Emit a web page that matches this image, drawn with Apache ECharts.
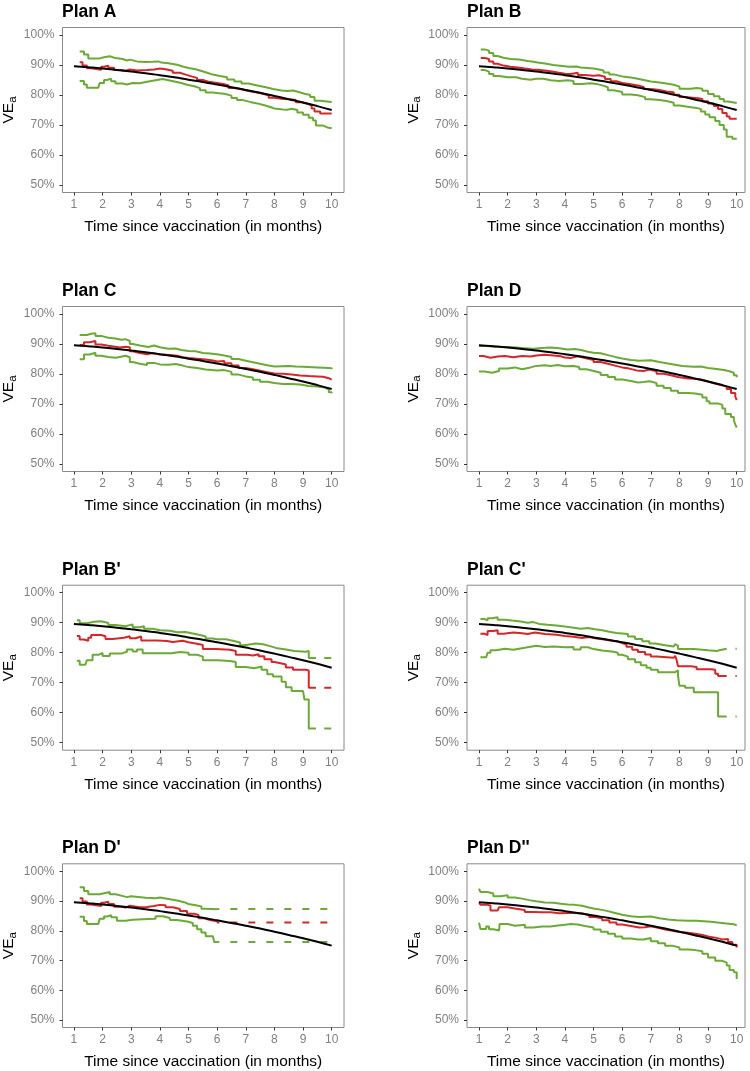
<!DOCTYPE html>
<html>
<head>
<meta charset="utf-8">
<script src="https://cdn.jsdelivr.net/npm/echarts@6/dist/echarts.min.js"></script>
<style>
html,body{margin:0;padding:0;background:#fff;}
#chart{width:750px;height:1071px;}
</style>
</head>
<body>
<div id="chart"></div>
<script>
// ---------------- DATA ----------------
const panelTitles = ['Plan A', 'Plan B', 'Plan C', 'Plan D', "Plan B'", "Plan C'", "Plan D'", "Plan D''"];
const xTicks = [1, 2, 3, 4, 5, 6, 7, 8, 9, 10];
const yTicks = [50, 60, 70, 80, 90, 100];
const xAxisTitle = 'Time since vaccination (in months)';

// true VE curve (black)
const truthX = [1, 1.5, 2, 2.5, 3, 3.5, 4, 4.5, 5, 5.5, 6, 6.5, 7, 7.5, 8, 8.5, 9, 9.5, 10];
const truthY = [89.6, 89.25, 88.85, 88.35, 87.8, 87.25, 86.6, 85.9, 85.1, 84.35, 83.5, 82.6, 81.7, 80.75, 79.7, 78.6, 77.5, 76.3, 75.0];

// Plan A
const planA_hi = [[1.2,94.5],[1.35,93.5],[1.5,92.2],[1.9,92.6],[2.05,92.9],[2.25,92.3],[2.45,92],[2.7,91.5],[2.85,91.8],[2.95,91.2],[3.2,91.0],[3.5,91.1],[3.75,91.2],[3.95,90.8],[4.05,90.6],[4.3,90.1],[4.6,89.5],[4.8,89],[5.0,88.6],[5.25,88],[5.45,87.4],[5.65,86.8],[5.85,86.3],[6.1,85.9],[6.35,85.2],[6.6,84.5],[6.85,83.8],[7.1,83.2],[7.4,82.6],[7.7,82],[7.95,81.5],[8.25,81.3],[8.45,81.5],[8.65,81],[8.85,80.4],[9.05,80],[9.25,79.3],[9.4,78.1],[9.6,77.7],[10,77.7]];
const planA_est = [[1.2,90.9],[1.3,89.8],[1.45,88.9],[1.6,88.4],[1.95,89.4],[2.05,89.8],[2.2,89.1],[2.4,88.3],[2.65,88.1],[2.8,88.5],[2.95,88.2],[3.2,88.3],[3.55,88.5],[3.8,88.8],[4.0,88.6],[4.2,88.1],[4.45,87.4],[4.7,86.8],[4.9,86.2],[5.1,85.7],[5.3,85],[5.5,84.4],[5.7,84],[6.0,83.6],[6.25,83.2],[6.4,82.3],[6.6,81.9],[6.85,81.4],[7.05,81],[7.3,80.5],[7.55,79.9],[7.8,79.1],[8.0,78.7],[8.3,78.6],[8.55,78.3],[8.75,77.6],[8.95,77.1],[9.15,76.5],[9.3,75.5],[9.4,74.5],[9.6,73.8],[10,73.7]];
const planA_lo = [[1.2,84.7],[1.35,83.5],[1.45,82.4],[1.85,82.5],[1.9,84],[2.05,85],[2.15,85.4],[2.3,84.6],[2.45,83.8],[2.7,83.5],[2.85,84],[3.05,83.9],[3.3,84.5],[3.6,84.9],[3.85,85.3],[4.1,84.9],[4.3,84.4],[4.55,84],[4.75,83.4],[4.95,82.9],[5.2,82.3],[5.4,81.6],[5.6,80.8],[5.85,80.6],[6.05,80.4],[6.25,79.8],[6.5,79],[6.7,78.3],[6.9,77.7],[7.15,77.2],[7.4,76.6],[7.65,76],[7.85,75.5],[8.0,75.2],[8.3,75.1],[8.45,75.4],[8.6,75],[8.8,74.2],[9.0,73.4],[9.2,72.4],[9.35,71.5],[9.45,69.8],[9.7,69.2],[9.85,68.9],[10,68.9]];

// Plan B
const planB_hi = [[1.06,95.2],[1.2,94.8],[1.35,94],[1.5,93],[1.65,92.4],[1.85,92],[2.1,91.8],[2.4,91.3],[2.7,91.1],[2.9,90.8],[3.05,90.5],[3.3,90],[3.6,89.7],[3.9,89.4],[4.15,89.5],[4.4,89.2],[4.55,88.8],[5.0,88.6],[5.15,88.2],[5.35,87.5],[5.55,86.8],[5.75,86.2],[6.0,85.8],[6.3,85.5],[6.5,85],[6.75,84.5],[7.0,84.2],[7.3,83.8],[7.55,83.4],[7.8,82.8],[8.0,82.1],[8.4,82.3],[8.6,82.1],[8.8,81.4],[9.0,80.3],[9.2,79.6],[9.4,78.7],[9.55,77.8],[9.7,77.3],[10,77.3]];
const planB_est = [[1.06,92.3],[1.2,92],[1.35,91.2],[1.5,90.4],[1.65,89.8],[1.85,89.4],[2.1,89.2],[2.35,88.8],[2.6,88.5],[2.85,88.4],[3.05,88.2],[3.3,87.8],[3.55,87.4],[3.8,87.1],[4.0,87],[4.2,87.4],[4.45,86.7],[4.7,86.4],[5.0,86.6],[5.2,86.1],[5.4,85.3],[5.6,84.6],[5.8,84],[6.0,83.6],[6.3,83.2],[6.55,82.7],[6.75,82],[7.0,81.7],[7.3,81.2],[7.55,80.9],[7.8,80.1],[8.0,79.3],[8.2,79.1],[8.45,78.9],[8.65,78.7],[8.8,77.9],[9.0,77.2],[9.2,76.3],[9.35,75.3],[9.5,74],[9.65,72.8],[9.75,72.1],[10,72]];
const planB_lo = [[1.06,88.3],[1.2,87.8],[1.35,87],[1.5,86.3],[1.7,85.9],[2.0,85.9],[2.3,85.4],[2.5,85.1],[2.8,85.4],[3.0,85.4],[3.25,84.9],[3.5,84.7],[3.8,84.9],[4.1,84.7],[4.3,83.7],[4.6,83.9],[4.9,83.7],[5.1,83.2],[5.3,82.6],[5.5,81.6],[5.7,81],[6.0,80.2],[6.3,79.9],[6.55,79.3],[6.8,78.6],[7.0,78.3],[7.3,78],[7.55,77.4],[7.8,76.5],[8.0,75.9],[8.4,75.7],[8.6,75.3],[8.75,74.5],[8.9,73.5],[9.05,72.6],[9.25,71.3],[9.4,70],[9.55,68.5],[9.65,66.1],[9.85,65.4],[10,65.2]];

// Plan C
const planC_hi = [[1.2,93],[1.45,93.4],[1.6,93.6],[1.75,92.7],[1.95,92.1],[2.2,91.8],[2.45,91.4],[2.65,91.6],[2.8,91],[2.95,90],[3.05,89.5],[3.3,89],[3.6,89.5],[3.8,88.9],[4.0,88.4],[4.3,88.5],[4.55,88],[4.75,87.7],[5.0,87.6],[5.25,87],[5.5,86.8],[5.75,86.6],[6.0,86.2],[6.25,85.7],[6.5,85],[6.75,84.4],[7.0,83.9],[7.25,83.4],[7.5,82.9],[7.75,82.5],[8.0,82.7],[8.5,82.5],[8.75,82.4],[9.0,82.2],[9.5,82.1],[9.75,81.9],[10,81.6]];
const planC_est = [[1.2,89.7],[1.35,90.6],[1.55,91],[1.75,89.8],[1.95,89.4],[2.2,89.1],[2.45,88.8],[2.6,89.1],[2.8,88.9],[2.95,87.6],[3.05,87],[3.3,86.6],[3.55,87],[3.75,86.5],[4.0,86.3],[4.35,86.1],[4.6,85.6],[4.8,85.3],[5.0,85.1],[5.3,84.8],[5.6,84.5],[5.85,84.2],[6.0,84.3],[6.25,83.6],[6.5,82.8],[6.75,82],[7.0,81.6],[7.25,81.1],[7.5,80.6],[7.75,80.2],[8.0,80.1],[8.3,79.8],[8.6,79.5],[8.9,79.3],[9.2,79.2],[9.5,79.1],[9.7,78.6],[9.9,78.1],[10,78]];
const planC_lo = [[1.2,84.9],[1.35,86.5],[1.55,87.1],[1.75,86.1],[1.95,85.7],[2.2,85.4],[2.45,85.7],[2.6,86.1],[2.8,85.6],[2.95,84],[3.05,83.4],[3.3,83],[3.55,83.7],[3.8,83.2],[4.0,83.1],[4.3,83.3],[4.55,82.8],[4.8,82.3],[5.0,82],[5.3,81.5],[5.6,81.2],[6.0,81.3],[6.25,80.7],[6.5,79.8],[6.75,79.2],[7.0,78.8],[7.25,78.1],[7.5,77.4],[7.75,77],[8.0,76.7],[8.3,76.7],[8.6,76.5],[8.9,76],[9.2,75.8],[9.5,75.5],[9.75,74.9],[9.9,73.9],[10,73.6]];

// Plan D
const planD_hi = [[1.0,89.3],[1.3,89.1],[1.6,89.0],[2.0,88.8],[2.3,88.6],[2.6,88.4],[2.9,88.7],[3.2,88.8],[3.5,88.6],[3.8,88.2],[4.1,88.3],[4.35,87.9],[4.6,87.4],[4.8,87.1],[5.0,86.9],[5.25,86.3],[5.5,85.7],[5.75,85.2],[6.0,84.7],[6.3,84.4],[6.6,84.5],[6.8,84.6],[7.0,84],[7.3,83.5],[7.6,83.1],[7.85,82.7],[8.1,82.4],[8.5,82.5],[8.75,82],[9.0,81.7],[9.3,81.3],[9.55,80.9],[9.75,80.4],[9.9,79.6],[10,78.9]];
const planD_est = [[1.0,86],[1.15,85.4],[1.4,85.8],[1.65,86],[1.9,85.6],[2.2,86],[2.5,85.8],[2.8,86.2],[3.0,86.4],[3.3,86.2],[3.6,85.9],[3.85,85.5],[4.0,85.3],[4.2,85.9],[4.45,85.3],[4.7,84.7],[5.0,84],[5.25,83.4],[5.5,82.8],[5.75,82.2],[6.0,81.8],[6.25,81.2],[6.5,81],[6.75,81.5],[6.95,80.9],[7.2,80.1],[7.45,79.6],[7.7,79],[7.95,78.5],[8.3,78.4],[8.55,78.1],[8.8,77.5],[9.0,76.9],[9.2,76.3],[9.45,75.8],[9.65,75],[9.8,73.7],[9.95,72.5],[10,71.3]];
const planD_lo = [[1.0,80.8],[1.2,80.4],[1.45,81],[1.7,81.8],[2.0,82.2],[2.25,81.6],[2.5,82.2],[2.8,82.7],[3.0,82.9],[3.3,82.7],[3.5,83],[3.75,82.6],[4.0,82.7],[4.3,82.3],[4.5,81.6],[4.75,81],[5.0,80.4],[5.25,79.7],[5.5,79],[5.75,78.2],[6.0,77.7],[6.3,77.2],[6.55,77.3],[6.75,77.6],[6.95,77],[7.2,76.1],[7.45,75.3],[7.7,74.4],[7.95,73.7],[8.3,73.5],[8.55,73.1],[8.8,72.2],[8.95,70.9],[9.05,70.2],[9.35,69.7],[9.5,68.5],[9.6,66.7],[9.8,65.7],[9.9,64.5],[9.95,63.2],[10,62.1]];

// Plan B'
const planBp_hi = [[1.1,90.8],[1.2,89.8],[1.45,90.3],[1.7,90.5],[1.95,89.9],[2.2,89.2],[2.45,88.8],[2.8,89.2],[2.95,89.4],[3.05,88.5],[3.3,88.8],[3.45,88],[3.75,87.5],[4.0,87.3],[4.35,86.8],[4.6,86.9],[4.9,86.4],[5.15,85.9],[5.4,85.4],[5.6,84.7],[5.85,84.5],[6.0,84.5],[6.3,84],[6.55,83.4],[6.8,82.5],[6.95,83.1],[7.35,82.8],[7.6,82.2],[7.85,81.6],[8.05,81.1],[8.4,80.6],[8.7,80.3],[9.1,80.4],[9.15,80.6],[9.2,78.2],[9.45,78.2]];
const planBp_est = [[1.1,85.6],[1.2,84.4],[1.35,84],[1.5,85],[1.6,85.9],[1.95,85.5],[2.1,84.6],[2.35,85],[2.75,85.5],[2.95,84.8],[3.15,85.4],[3.35,84.1],[3.9,83.9],[4.25,83.6],[4.45,84],[4.8,83.5],[5.0,83.1],[5.25,82.6],[5.5,81.2],[5.95,81],[6.45,80.6],[6.65,79.3],[7.05,79.1],[7.25,79.5],[7.45,78.8],[7.65,77.8],[7.9,76.9],[8.0,76.3],[8.3,76.1],[8.4,75.1],[8.65,74.3],[9.1,74.1],[9.2,68.3],[9.45,68.3]];
const planBp_lo = [[1.1,77.3],[1.2,76],[1.4,75.8],[1.45,77.5],[1.65,79.3],[1.85,79.9],[2.0,78.9],[2.25,79.7],[2.65,80.3],[2.85,81.1],[3.05,80.4],[3.2,81.1],[3.4,79.8],[4.0,79.8],[4.4,80.2],[4.7,80],[5.0,79.3],[5.3,78.7],[5.5,77.5],[6.0,77.2],[6.45,76.9],[6.65,75.2],[7.0,74.8],[7.3,75.4],[7.55,74.3],[7.75,72.8],[7.95,72.1],[8.25,70.3],[8.4,68.5],[8.6,67.2],[9.0,67],[9.05,64.4],[9.2,54.7],[9.45,54.7]];
const planBp_hiExt = [[9.45,78.2],[10,78.2]];
const planBp_estExt = [[9.45,68.3],[10,68.3]];
const planBp_loExt = [[9.45,54.7],[10,54.7]];

// Plan C'
const planCp_hi = [[1.05,91.2],[1.2,90.8],[1.3,91.5],[1.45,91.8],[1.65,91],[1.9,90.7],[2.15,90.4],[2.45,90],[2.7,90.2],[2.9,89.6],[3.1,89.3],[3.4,89.1],[3.7,88.7],[4.0,88.4],[4.25,88],[4.55,88.2],[4.8,87.8],[5.05,87.5],[5.3,87],[5.55,86.6],[5.8,86.4],[6.0,86.2],[6.2,85.4],[6.45,84.6],[6.7,83.8],[6.95,83.1],[7.15,82.5],[7.5,82.1],[7.8,82.2],[7.85,82.9],[7.9,82.3],[7.95,81.2],[8.5,80.8],[9.0,80.6],[9.3,80.8],[9.4,81.3],[9.65,81.3]];
const planCp_est = [[1.05,86.3],[1.2,85.9],[1.3,87.2],[1.5,87.5],[1.65,86.3],[1.85,86.7],[2.2,86.5],[2.5,86.2],[2.7,86.7],[2.95,86.2],[3.3,86.0],[3.7,85.6],[4.0,85.3],[4.3,84.9],[4.6,85.2],[4.85,84.7],[5.1,84.5],[5.3,84.1],[5.6,83.7],[5.85,83.2],[6.0,82.7],[6.15,82],[6.35,81],[6.55,80.2],[6.8,79.4],[7.0,78.7],[7.2,78.3],[7.8,78.3],[7.85,79],[7.9,77.6],[7.95,75.5],[8.4,75.2],[8.6,74.5],[9.1,74.3],[9.25,73],[9.35,72.2],[9.65,72.2]];
const planCp_lo = [[1.05,78.5],[1.25,78],[1.3,80],[1.4,80.8],[1.6,81.3],[1.9,81],[2.2,81.5],[2.5,81.9],[2.75,82.3],[3.0,81.9],[3.3,82.1],[3.6,81.8],[4.0,81.9],[4.3,81.1],[4.55,81.8],[4.8,81.2],[5.0,80.7],[5.3,80.3],[5.7,80],[5.85,79.3],[6.0,78.7],[6.2,77.8],[6.45,76.8],[6.65,75.8],[6.85,75],[7.0,74.3],[7.25,73.5],[7.85,74.1],[7.95,72.3],[8.0,69],[8.2,68.3],[8.5,66.8],[9.35,58.7],[9.65,58.7]];
const planCp_hiExt = [[9.65,81.3],[10,81.3]];
const planCp_estExt = [[9.65,72.2],[10,72.2]];
const planCp_loExt = [[9.65,58.7],[10,58.7]];

// Plan D'
const planDp_hi = [[1.2,94.6],[1.35,93.4],[1.5,92.3],[1.9,92.6],[2.05,93],[2.25,92.3],[2.45,91.8],[2.65,91.3],[2.85,91.6],[3.0,91.1],[3.5,90.9],[3.85,91.2],[4.0,90.7],[4.3,90.2],[4.6,89.6],[4.85,89],[5.0,88.6],[5.25,88.2],[5.45,87.4],[5.6,87.2],[6.0,87.3]];
const planDp_est = [[1.2,90.9],[1.3,89.8],[1.45,88.8],[1.6,88.3],[1.95,89.4],[2.05,89.8],[2.2,89.0],[2.4,88.1],[2.65,87.8],[2.8,88.4],[2.95,87.9],[3.3,88.0],[3.55,88.3],[3.8,88.7],[4.0,88.6],[4.2,87.9],[4.45,87.3],[4.7,86.6],[4.95,85.7],[5.2,85.3],[5.35,84.2],[5.55,83.6],[5.75,83.2],[6.0,82.8]];
const planDp_lo = [[1.2,84.7],[1.35,83.3],[1.45,82.3],[1.85,82.5],[1.9,84],[2.05,84.8],[2.15,85.2],[2.3,84.5],[2.5,83.4],[2.8,83.7],[3.05,83.9],[3.4,84],[3.85,84.9],[4.1,84.3],[4.35,83.6],[4.6,83.1],[4.95,82.6],[5.15,81.7],[5.3,80.5],[5.45,79.4],[5.6,78.2],[5.85,78.2],[5.9,76.2],[6.0,76.2]];
const planDp_hiExt = [[6.0,87.3],[10,87.3]];
const planDp_estExt = [[6.0,82.8],[10,82.8]];
const planDp_loExt = [[6.0,76.2],[10,76.2]];

// Plan D''
const planDpp_hi = [[1.0,94.2],[1.05,93],[1.3,92.5],[1.5,91.6],[1.75,91.9],[2.0,91.2],[2.25,90.8],[2.5,90.3],[2.75,89.9],[3.0,89.5],[3.3,89.4],[3.6,89.1],[3.85,88.8],[4.1,88.7],[4.35,88.4],[4.6,87.9],[4.8,87.5],[5.0,87.1],[5.25,86.6],[5.5,86],[5.75,85.4],[6.0,84.9],[6.3,84.6],[6.6,84.7],[6.8,84.8],[7.0,84.2],[7.3,83.8],[7.6,83.5],[7.9,83.4],[8.3,83.4],[8.6,83.2],[8.85,83],[9.1,82.7],[9.4,82.3],[9.8,82.2],[9.9,81.8],[10,81.6]];
const planDpp_est = [[1.0,89.6],[1.05,88.7],[1.3,88.5],[1.4,86.8],[1.65,86.6],[1.7,87.9],[2.0,87.4],[2.3,87],[2.6,86.3],[2.9,86.2],[3.2,86.2],[3.5,85.9],[3.8,86],[4.1,86],[4.35,85.8],[4.6,85.3],[4.85,84.6],[5.05,84.2],[5.3,83.5],[5.55,82.8],[5.8,82.1],[6.0,81.6],[6.3,81.1],[6.6,81.2],[6.8,81.5],[7.0,81],[7.25,80.4],[7.5,80],[7.75,79.6],[8.0,79.3],[8.3,79],[8.55,78.6],[8.8,78.1],[9.0,77.7],[9.25,77.1],[9.5,77.2],[9.7,76.2],[9.85,75.3],[10,74.4]];
const planDpp_lo = [[1.0,82.7],[1.05,80.6],[1.25,81.4],[1.35,80.5],[1.5,80.1],[1.7,80.2],[1.72,82.3],[2.0,81.7],[2.25,82],[2.6,81.1],[2.9,81.4],[3.2,81.4],[3.5,81.8],[3.75,82],[4.0,82.3],[4.2,82.1],[4.45,81.6],[4.7,81.1],[5.0,80.4],[5.25,79.7],[5.5,79],[5.75,78.1],[6.0,77.4],[6.3,77.1],[6.55,77.1],[6.75,77.6],[7.0,76.5],[7.25,75.8],[7.5,75],[7.75,74.4],[8.0,73.7],[8.3,73.5],[8.55,73.1],[8.8,72.3],[9.0,71],[9.25,69.9],[9.5,69.3],[9.65,68.3],[9.75,66.8],[9.9,66.1],[10,63.8]];

// ---------------- BUILD ----------------
const panels = [
  {hi: planA_hi, est: planA_est, lo: planA_lo},
  {hi: planB_hi, est: planB_est, lo: planB_lo},
  {hi: planC_hi, est: planC_est, lo: planC_lo},
  {hi: planD_hi, est: planD_est, lo: planD_lo},
  {hi: planBp_hi, est: planBp_est, lo: planBp_lo, hiExt: planBp_hiExt, estExt: planBp_estExt, loExt: planBp_loExt, dashOff: 9.7},
  {hi: planCp_hi, est: planCp_est, lo: planCp_lo, hiExt: planCp_hiExt, estExt: planCp_estExt, loExt: planCp_loExt, dashOff: 9.2},
  {hi: planDp_hi, est: planDp_est, lo: planDp_lo, hiExt: planDp_hiExt, estExt: planDp_estExt, loExt: planDp_loExt, dashOff: 4.8},
  {hi: planDpp_hi, est: planDpp_est, lo: planDpp_lo}
];

const FONT = '"Liberation Sans", Arial, Helvetica, sans-serif';
const GREEN = '#6aaa35';
const RED = '#d7262a';
const colLeft = [62, 467];
const colWidth = [282, 278];
const colXRange = [[0.6, 10.43], [0.58, 10.29]];
const rowTop = [27.5, 306.5, 585.2, 863.8];
const boxH = 165;

const grids = [], xAxes = [], yAxes = [], titles = [], series = [];
const truth = truthX.map((x, i) => [x, truthY[i]]);

panels.forEach((p, i) => {
  const c = i % 2, r = Math.floor(i / 2);
  grids.push({left: colLeft[c], top: rowTop[r], width: colWidth[c], height: boxH,
    show: true, borderColor: '#8a8a8a', borderWidth: 1, backgroundColor: '#fff', containLabel: false});
  titles.push({text: panelTitles[i], left: colLeft[c], top: rowTop[r] - 24.5, padding: 0,
    textStyle: {fontFamily: FONT, fontSize: 17.5, fontWeight: 'bold', color: '#000'}});
  xAxes.push({type: 'value', gridIndex: i, min: colXRange[c][0], max: colXRange[c][1],
    name: xAxisTitle, nameLocation: 'middle', nameGap: 26.5,
    nameTextStyle: {fontFamily: FONT, fontSize: 15.5, color: '#000'},
    axisLine: {show: false}, splitLine: {show: false},
    axisTick: {show: true, length: 3, customValues: xTicks, lineStyle: {color: '#333', width: 1}},
    axisLabel: {customValues: xTicks, margin: 6.5, fontFamily: FONT, fontSize: 12, color: '#808080'}});
  yAxes.push({type: 'value', gridIndex: i, min: 47.5, max: 102.5,
    name: 'VE{s|a}', nameLocation: 'middle', nameGap: 44, nameRotate: 90,
    nameTextStyle: {fontFamily: FONT, fontSize: 15.5, color: '#000',
      rich: {s: {fontFamily: FONT, fontSize: 11.5, color: '#000', padding: [7, 0, 0, 0]}}},
    axisLine: {show: false}, splitLine: {show: false},
    axisTick: {show: true, length: 3, customValues: yTicks, lineStyle: {color: '#333', width: 1}},
    axisLabel: {customValues: yTicks, margin: 8, fontFamily: FONT, fontSize: 12, color: '#808080',
      formatter: v => v + '%'}});

  const base = {type: 'line', xAxisIndex: i, yAxisIndex: i, showSymbol: false, symbol: 'none',
    animation: false, silent: true, clip: true};
  const dashStyle = (col) => ({color: col, width: 2, type: [7, 11], dashOffset: p.dashOff || 0, cap: 'butt'});
  if (p.loExt) series.push(Object.assign({}, base, {data: p.loExt, lineStyle: dashStyle(GREEN), z: 2}));
  if (p.hiExt) series.push(Object.assign({}, base, {data: p.hiExt, lineStyle: dashStyle(GREEN), z: 2}));
  if (p.estExt) series.push(Object.assign({}, base, {data: p.estExt, lineStyle: dashStyle(RED), z: 3}));
  series.push(Object.assign({}, base, {data: p.lo, step: 'end', lineStyle: {color: GREEN, width: 2}, z: 2}));
  series.push(Object.assign({}, base, {data: p.hi, step: 'end', lineStyle: {color: GREEN, width: 2}, z: 2}));
  series.push(Object.assign({}, base, {data: p.est, step: 'end', lineStyle: {color: RED, width: 2}, z: 3}));
  series.push(Object.assign({}, base, {data: truth, smooth: true, lineStyle: {color: '#000', width: 2}, z: 4}));
});

const chart = echarts.init(document.getElementById('chart'), null, {renderer: 'canvas'});
chart.setOption({
  backgroundColor: '#fff',
  animation: false,
  title: titles,
  grid: grids,
  xAxis: xAxes,
  yAxis: yAxes,
  series: series
});
</script>
</body>
</html>
